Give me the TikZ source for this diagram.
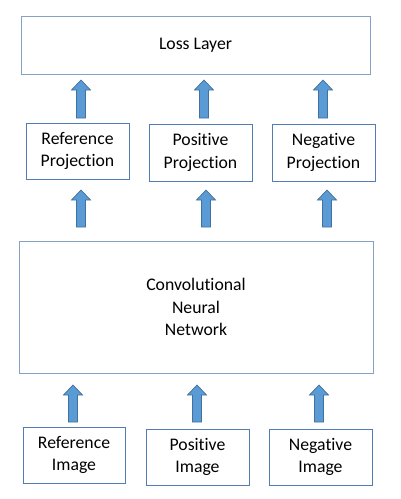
\documentclass[tikz,border=0pt]{standalone}
\usepackage{fontspec}
\setmainfont{Carlito}[Ligatures={NoCommon}]
\definecolor{boxdark}{RGB}{84,124,180}
\definecolor{boxlight}{RGB}{135,160,198}
\definecolor{arrfill}{RGB}{91,155,213}
\definecolor{arrdraw}{RGB}{65,113,156}
\newcommand\uparr[4]{%
  \coordinate (#1) at (#2,#4);
  \draw[blockarrow] (#2-4.5,#3) -- (#2-4.5,#4+10) -- (#2-9.5,#4+10) -- (#1) -- (#2+9.5,#4+10) -- (#2+4.5,#4+10) -- (#2+4.5,#3) -- cycle;}
\begin{document}
\begin{tikzpicture}[x=1pt,y=-1pt,
  box/.style={draw=boxdark, line width=0.9pt, fill=white, inner sep=0pt, align=center,
    font=\fontsize{17.7}{22.5}\selectfont},
  lightbox/.style={box, draw=boxlight},
  blockarrow/.style={fill=arrfill, draw=arrdraw, line width=0.7pt, line join=miter}]
\useasboundingbox (0,0) rectangle (400,499);
\fill[white] (0,0) rectangle (400,499);
% boxes
\node[lightbox, minimum width=349pt, minimum height=58pt] (loss) at (195.5,45) {Loss Layer};
\node[box, minimum width=103pt, minimum height=56pt] (refproj) at (77.5,151) {Reference\\Projection};
\node[box, minimum width=103pt, minimum height=57pt] (posproj) at (200.5,152.5) {Positive\\Projection};
\node[box, minimum width=103pt, minimum height=57pt] (negproj) at (323.5,152.5) {Negative\\Projection};
\node[lightbox, minimum width=354pt, minimum height=132pt] (cnn) at (196,307) {Convolutional\\Neural\\Network};
\node[box, minimum width=102pt, minimum height=56pt] (refimg) at (74,455) {Reference\\Image};
\node[box, minimum width=103pt, minimum height=56pt] (posimg) at (197.5,457) {Positive\\Image};
\node[box, minimum width=103pt, minimum height=56pt] (negimg) at (320.5,457) {Negative\\Image};
% arrows
\uparr{a1}{81}{118}{80}
\uparr{a2}{204}{118}{80}
\uparr{a3}{323}{118}{80}
\uparr{b1}{81}{227}{190}
\uparr{b2}{206}{227}{190}
\uparr{b3}{327}{227}{190}
\uparr{c1}{73}{422}{385}
\uparr{c2}{197}{422}{385}
\uparr{c3}{319}{422}{385}
\end{tikzpicture}
\end{document}
